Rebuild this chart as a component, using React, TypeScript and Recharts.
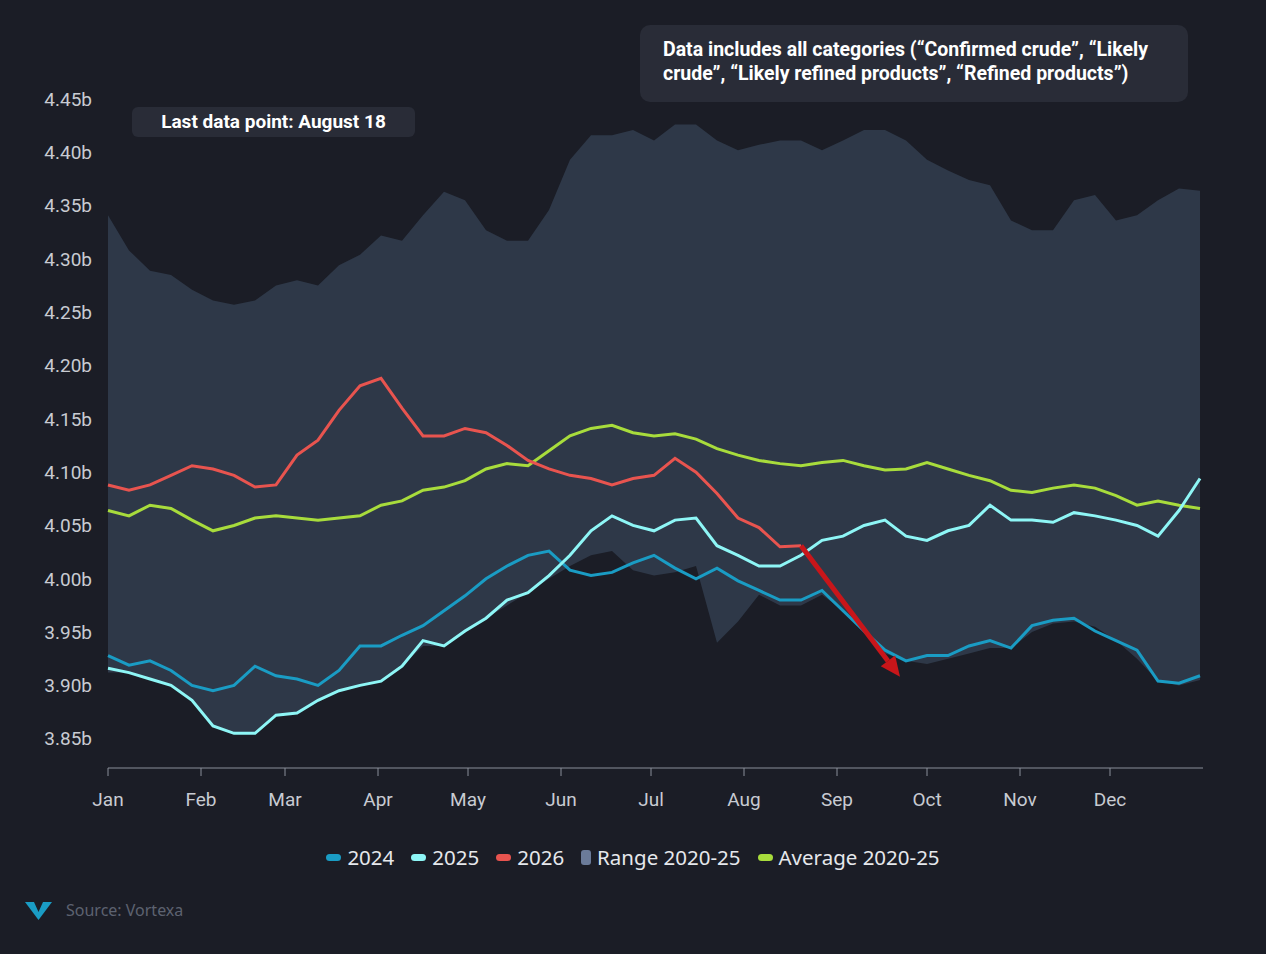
import React from "react";
import {
  ComposedChart,
  Line,
  Area,
  XAxis,
  YAxis,
  ReferenceLine,
} from "recharts";

// weekly samples, day 0..364 (Jan 1 .. Dec 30)
const days = Array.from({ length: 53 }, (_, i) => i * 7);

const y2024 = [
  3.928, 3.919, 3.923, 3.914, 3.9, 3.895, 3.9, 3.918, 3.909, 3.906, 3.9, 3.914, 3.937, 3.937,
  3.947, 3.956, 3.97, 3.984, 4.0, 4.012, 4.022, 4.026, 4.008, 4.003, 4.006, 4.015, 4.022, 4.01,
  4.0, 4.01, 3.998, 3.989, 3.98, 3.98, 3.989, 3.97, 3.951, 3.933, 3.923, 3.928, 3.928, 3.937,
  3.942, 3.935, 3.956, 3.961, 3.963, 3.951, 3.942, 3.933, 3.904, 3.902, 3.909,
];

const y2025 = [
  3.916, 3.912, 3.906, 3.9, 3.886, 3.862, 3.855, 3.855, 3.872, 3.874, 3.886, 3.895, 3.9, 3.904,
  3.918, 3.942, 3.937, 3.951, 3.963, 3.98, 3.987, 4.003, 4.022, 4.045, 4.059, 4.05, 4.045, 4.055,
  4.057, 4.031, 4.022, 4.012, 4.012, 4.022, 4.036, 4.04, 4.05, 4.055, 4.04, 4.036, 4.045, 4.05,
  4.069, 4.055, 4.055, 4.053, 4.062, 4.059, 4.055, 4.05, 4.04, 4.064, 4.094,
];

const y2026 = [
  4.088, 4.083, 4.088, 4.097, 4.106, 4.103, 4.097, 4.086, 4.088, 4.116, 4.13, 4.158, 4.181,
  4.188, 4.16, 4.134, 4.134, 4.141, 4.137, 4.125, 4.111, 4.103, 4.097, 4.094, 4.088, 4.094,
  4.097, 4.113, 4.1, 4.08, 4.057, 4.048, 4.03, 4.031,
];

const average = [
  4.064, 4.059, 4.069, 4.066, 4.055, 4.045, 4.05, 4.057, 4.059, 4.057, 4.055, 4.057, 4.059,
  4.069, 4.073, 4.083, 4.086, 4.092, 4.103, 4.108, 4.106, 4.12, 4.134, 4.141, 4.144, 4.137,
  4.134, 4.136, 4.131, 4.122, 4.116, 4.111, 4.108, 4.106, 4.109, 4.111, 4.106, 4.102, 4.103,
  4.109, 4.103, 4.097, 4.092, 4.083, 4.081, 4.085, 4.088, 4.085, 4.078, 4.069, 4.073, 4.069,
  4.066,
];

const rangeHigh = [
  4.341, 4.308, 4.289, 4.285, 4.271, 4.261, 4.257, 4.261, 4.275, 4.28, 4.275, 4.294, 4.304,
  4.322, 4.317, 4.341, 4.363, 4.355, 4.327, 4.317, 4.317, 4.346, 4.393, 4.416, 4.416, 4.421,
  4.411, 4.426, 4.426, 4.411, 4.402, 4.407, 4.411, 4.411, 4.402, 4.411, 4.421, 4.421, 4.411,
  4.393, 4.383, 4.374, 4.369, 4.336, 4.327, 4.327, 4.355, 4.36, 4.336, 4.341, 4.355, 4.366,
  4.364,
];

const rangeLow = [
  3.912, 3.912, 3.906, 3.9, 3.886, 3.862, 3.855, 3.855, 3.872, 3.874, 3.886, 3.895, 3.9, 3.904,
  3.918, 3.937, 3.937, 3.951, 3.963, 3.975, 3.987, 4.0, 4.012, 4.022, 4.026, 4.008, 4.003,
  4.006, 4.012, 3.94, 3.96, 3.985, 3.975, 3.975, 3.985, 3.97, 3.951, 3.93, 3.923, 3.92,
  3.925, 3.93, 3.935, 3.935, 3.95, 3.958, 3.96, 3.955, 3.942, 3.925, 3.904, 3.9, 3.905,
];

const monthTicks = [0, 31, 59, 90, 120, 151, 181, 212, 243, 273, 304, 334];
const monthLabels = ["Jan", "Feb", "Mar", "Apr", "May", "Jun", "Jul", "Aug", "Sep", "Oct", "Nov", "Dec"];
const yTicks = [3.85, 3.9, 3.95, 4.0, 4.05, 4.1, 4.15, 4.2, 4.25, 4.3, 4.35, 4.4, 4.45];

// arrow from last data point
const arrowFrom = { x: 231, y: 4.031 };
const arrowTo = { x: 264, y: 3.908 };

const data = days.map((d, i) => ({
  day: d,
  y2024: y2024[i],
  y2025: y2025[i],
  y2026: i < y2026.length ? y2026[i] : null,
  average: average[i],
  range: [rangeLow[i], rangeHigh[i]],
}));

const BG = "#1b1d26";
const FONT = "Roboto, 'Noto Sans', sans-serif";

const Arrow = (p: any) => {
  const { x1, y1, x2, y2 } = p;
  if (x1 == null) return null;
  const ang = Math.atan2(y2 - y1, x2 - x1);
  const L = 20, W = 9;
  const bx = x2 - L * Math.cos(ang), by = y2 - L * Math.sin(ang);
  const nx = -Math.sin(ang) * W, ny = Math.cos(ang) * W;
  return (
    <g>
      <line x1={x1} y1={y1} x2={bx} y2={by} stroke="#c8161a" strokeWidth={5} />
      <polygon points={`${x2},${y2} ${bx + nx},${by + ny} ${bx - nx},${by - ny}`} fill="#c8161a" />
    </g>
  );
};

const legendItems = [
  { label: "2024", color: "#1a9cc4", kind: "line" },
  { label: "2025", color: "#8ef6f6", kind: "line" },
  { label: "2026", color: "#e8544f", kind: "line" },
  { label: "Range 2020-25", color: "#6b7b99", kind: "box" },
  { label: "Average 2020-25", color: "#a8dc3c", kind: "line" },
];

const boxStyle: React.CSSProperties = {
  position: "absolute",
  background: "#292c37",
  borderRadius: 10,
  color: "#ffffff",
  fontWeight: 700,
  fontSize: 19,
  fontFamily: FONT,
};

export default function App() {
  return (
    <div style={{ position: "fixed", left: 0, top: 0, width: 1266, height: 954, background: BG, overflow: "hidden" }}>
      <ComposedChart width={1266} height={954} data={data} margin={{ top: 99, right: 63, bottom: 156, left: 0 }}>
        <XAxis
          dataKey="day"
          type="number"
          domain={[0, 365]}
          ticks={monthTicks}
          tickFormatter={(v: number) => monthLabels[monthTicks.indexOf(v)]}
          stroke="#8a8f99"
          tickSize={8}
          tickMargin={17}
          height={30}
          tick={{ fill: "#c8cbd2", fontSize: 19, fontFamily: FONT }}
        />
        <YAxis
          type="number"
          domain={[3.8225, 4.45]}
          ticks={yTicks}
          width={108}
          axisLine={false}
          tickLine={false}
          tickSize={0}
          tickMargin={16}
          tickFormatter={(v: number) => `${v.toFixed(2)}b`}
          tick={{ fill: "#c8cbd2", fontSize: 19, fontFamily: FONT }}
          allowDataOverflow
        />
        <Area dataKey="range" type="linear" stroke="none" fill="#2e3848" fillOpacity={1} isAnimationActive={false} />
        <Line dataKey="average" type="linear" stroke="#a8dc3c" strokeWidth={3} dot={false} isAnimationActive={false} />
        <Line dataKey="y2024" type="linear" stroke="#1a9cc4" strokeWidth={3} dot={false} isAnimationActive={false} />
        <Line dataKey="y2025" type="linear" stroke="#8ef6f6" strokeWidth={3} dot={false} isAnimationActive={false} />
        <Line dataKey="y2026" type="linear" stroke="#e8544f" strokeWidth={3} dot={false} connectNulls={false} isAnimationActive={false} />
        <ReferenceLine
          segment={[arrowFrom, arrowTo]}
          ifOverflow="visible"
          shape={(p: any) => <Arrow {...p} />}
        />
      </ComposedChart>

      <div style={{ ...boxStyle, left: 132, top: 107, width: 283, height: 30, lineHeight: "30px", borderRadius: 6, textAlign: "center", fontSize: 19 }}>
        Last data point: August 18
      </div>
      <div style={{ ...boxStyle, left: 640, top: 25, width: 548, height: 77, padding: "13px 0 0 23px", boxSizing: "border-box", lineHeight: "24px", fontSize: 19.5 }}>
        Data includes all categories (“Confirmed crude”, “Likely
        <br />
        crude”, “Likely refined products”, “Refined products”)
      </div>

      <div style={{ position: "absolute", left: 0, width: 1266, top: 843, display: "flex", justifyContent: "center", gap: 17, fontFamily: "'Noto Sans', sans-serif", fontSize: 20.5, color: "#e6e8ec" }}>
        {legendItems.map((it) => (
          <div key={it.label} style={{ display: "flex", alignItems: "center", gap: 6 }}>
            {it.kind === "line" ? (
              <span style={{ width: 15, height: 7, borderRadius: 4, background: it.color, display: "inline-block" }} />
            ) : (
              <span style={{ width: 10, height: 15, borderRadius: 3, background: it.color, display: "inline-block" }} />
            )}
            <span>{it.label}</span>
          </div>
        ))}
      </div>

      <div style={{ position: "absolute", left: 25, top: 899, display: "flex", alignItems: "center", gap: 14, fontFamily: "'Noto Sans', sans-serif", fontSize: 16, color: "#5d6270" }}>
        <svg width={27} height={20} viewBox="0 0 27 20">
          <polygon points="0,2 9,2 13.5,12 18,2 27,2 13.5,20" fill="#1a9cc4" />
        </svg>
        <span>Source: Vortexa</span>
      </div>
    </div>
  );
}
